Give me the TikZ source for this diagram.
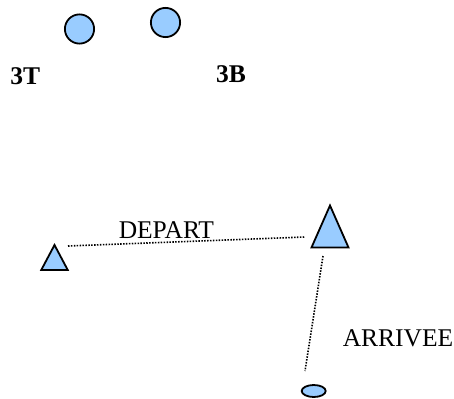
\documentclass[tikz,border=0pt]{standalone}
\usepackage{fontspec}
\setmainfont{Liberation Serif}
\usetikzlibrary{shapes.geometric}
\definecolor{fillblue}{HTML}{99CCFF}
\tikzset{
  shp/.style={draw=black, fill=fillblue, line width=1.8pt, inner sep=0pt, outer sep=0pt},
  ball/.style={shp, circle, minimum size=29.2pt},
  tri/.style={shp, isosceles triangle, isosceles triangle stretches, shape border rotate=90},
  dotline/.style={line width=1.6pt, dash pattern=on 1.5pt off 1.4pt},
  lbl/.style={font=\fontsize{25.5}{27}\selectfont, inner sep=0pt, anchor=base},
  blbl/.style={lbl, font=\fontsize{25.5}{27}\selectfont\bfseries}
}
\begin{document}
\begin{tikzpicture}[x=1pt, y=-1pt]
  \useasboundingbox (0,0) rectangle (454,398);
  \node[ball] (c1) at (79.5,29) {};
  \node[ball] (c2) at (165.5,22.5) {};
  \node[blbl] (t3t) at (25.3,84.3) {3T};
  \node[blbl] (t3b) at (231,83) {3B};
  \node[tri, minimum height=25pt, minimum width=26.5pt, anchor=apex] (lt) at (54.5,245) {};
  \node[tri, minimum height=42pt, minimum width=37pt, anchor=apex] (rt) at (330,205.5) {};
  \node[shp, ellipse, minimum width=24pt, minimum height=12pt] (el) at (313.7,391) {};
  \coordinate (d1) at (68,246);
  \coordinate (d2) at (305,237);
  \coordinate (a1) at (323,256);
  \coordinate (a2) at (305,371);
  \draw[dotline] (d1) -- (d2);
  \draw[dotline] (a1) -- (a2);
  \node[lbl] (dep) at (166.4,238.3) {DEPART};
  \node[lbl] (arr) at (398,346.7) {ARRIVEE};
\end{tikzpicture}
\end{document}
